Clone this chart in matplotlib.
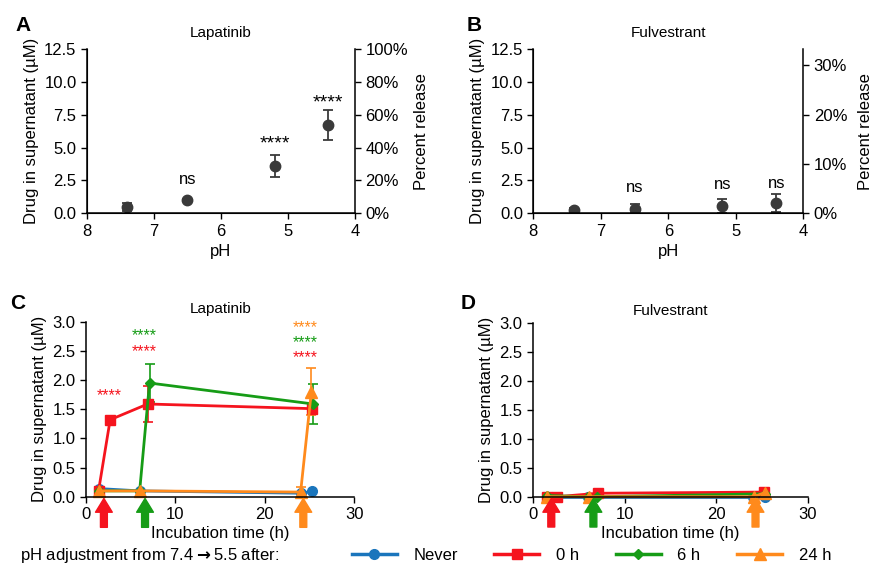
import numpy as np
import matplotlib
matplotlib.use('Agg')
import matplotlib.pyplot as plt
from matplotlib.lines import Line2D
from matplotlib.ticker import FuncFormatter

plt.rcParams['font.family'] = ['Liberation Sans', 'DejaVu Sans']
plt.rcParams['font.size'] = 12

# panel A/B data (pH series)
ph = [7.4, 6.5, 5.2, 4.4]
lap_ph = [0.45, 1.0, 3.6, 6.7]
lap_ph_err = [0.3, 0.1, 0.85, 1.15]
lap_ph_sig = ['', 'ns', '****', '****']
lap_sig_y = [0, 2.6, 5.6, 8.7]
ful_ph = [0.25, 0.35, 0.55, 0.8]
ful_ph_err = [0.15, 0.35, 0.5, 0.68]
ful_ph_sig = ['', 'ns', 'ns', 'ns']
ful_sig_y = [0, 2.0, 2.2, 2.3]

# panel C/D data (time series)
series = ['Never', '0 h', '6 h', '24 h']
colors = ['#1a75bc', '#f5141e', '#169c16', '#ff8a1c']
markers = ['o', 's', 'D', '^']
msizes = [7, 7.5, 5, 8]

lap_t = {
    'Never': [1.4, 6.0, 24.0, 25.3],
    '0 h': [1.4, 2.7, 6.9, 25.3],
    '6 h': [1.4, 6.0, 7.1, 25.4],
    '24 h': [1.4, 6.0, 24.0, 25.2],
}
lap_y = {
    'Never': [0.14, 0.10, 0.06, 0.09],
    '0 h': [0.10, 1.32, 1.59, 1.51],
    '6 h': [0.10, 0.10, 1.95, 1.59],
    '24 h': [0.10, 0.10, 0.08, 1.80],
}
lap_err = {
    'Never': [0.02, 0.01, 0.01, 0.01],
    '0 h': [0.01, 0.03, 0.31, 0.05],
    '6 h': [0.01, 0.01, 0.33, 0.35],
    '24 h': [0.01, 0.01, 0.09, 0.40],
}
ful_t = {
    'Never': [1.5, 6.0, 24.0, 25.3],
    '0 h': [1.5, 2.6, 7.1, 25.2],
    '6 h': [1.5, 6.0, 7.0, 25.3],
    '24 h': [1.5, 6.1, 24.1, 25.3],
}
ful_y = {
    'Never': [0.0, 0.0, 0.0, 0.0],
    '0 h': [0.0, 0.0, 0.06, 0.08],
    '6 h': [0.02, 0.0, 0.0, 0.05],
    '24 h': [0.0, 0.0, 0.0, 0.07],
}

arrow_t = [2.0, 6.6, 24.3]
arrow_c = colors[1:]

# significance marks for C: (x, y, color)
lap_stars = [(2.6, 1.8, colors[1]), (6.5, 2.83, colors[2]), (6.5, 2.55, colors[1]),
             (24.5, 2.96, colors[3]), (24.5, 2.71, colors[2]), (24.5, 2.44, colors[1])]

fig = plt.figure(figsize=(8.75, 5.68), dpi=100)

dark = '#3a3a3a'


def style(ax):
    ax.spines['top'].set_visible(False)
    ax.spines['right'].set_visible(False)
    ax.tick_params(direction='out', length=4, width=1)
    for s in ax.spines.values():
        s.set_linewidth(1.1)


def ph_panel(rect, y, err, sig, sig_y, title, pmax, pticks, rpad):
    ax = fig.add_axes(rect)
    style(ax)
    ax.errorbar(ph, y, yerr=err, fmt='o', color=dark, ms=7.5, capsize=3.5, elinewidth=1.3, capthick=1.3)
    for x, s, sy in zip(ph, sig, sig_y):
        if s == 'ns':
            ax.text(x, sy, s, ha='center', va='center', fontsize=12)
        elif s:
            ax.text(x, sy - 0.3, s, ha='center', va='center', fontsize=14)
    ax.set_xlim(8, 4)
    ax.set_ylim(0, 12.5)
    ax.set_yticks([0, 2.5, 5, 7.5, 10, 12.5])
    ax.yaxis.set_major_formatter(FuncFormatter(lambda v, p: '%.1f' % v))
    ax.set_xticks([8, 7, 6, 5, 4])
    ax.set_xlabel('pH')
    ax.set_ylabel('Drug in supernatant (µM)')
    ax.set_title(title, fontsize=11, pad=9)
    ax2 = ax.twinx()
    ax2.spines['top'].set_visible(False)
    ax2.spines['right'].set_linewidth(1.1)
    ax2.set_ylim(0, pmax)
    ax2.set_yticks(pticks)
    ax2.yaxis.set_major_formatter(FuncFormatter(lambda v, p: '%d%%' % v))
    ax2.tick_params(direction='out', length=4, width=1)
    ax2.set_ylabel('Percent release', labelpad=rpad)
    return ax


def time_panel(rect, tdict, ydict, edict, title, stars):
    ax = fig.add_axes(rect)
    style(ax)
    for name, c, m, ms in zip(series, colors, markers, msizes):
        if edict is not None:
            ax.errorbar(tdict[name], ydict[name], yerr=edict[name], color=c, marker=m, ms=ms,
                        lw=2, capsize=3.5, elinewidth=1.2, capthick=1.2, clip_on=False)
        else:
            ax.plot(tdict[name], ydict[name], color=c, marker=m, ms=ms, lw=2, clip_on=False)
    for x, y, c in stars:
        ax.text(x, y - 0.06, '****', color=c, ha='center', va='center', fontsize=11.5)
    for x, c in zip(arrow_t, arrow_c):
        ax.annotate('', xy=(x, -0.01), xytext=(x, -0.175),
                    xycoords=('data', 'axes fraction'),
                    arrowprops=dict(arrowstyle='simple,head_width=1.1,head_length=0.9,tail_width=0.45',
                                    color=c, mutation_scale=11, shrinkA=0, shrinkB=0),
                    annotation_clip=False)
    ax.set_xlim(0, 30)
    ax.set_ylim(0, 3.0)
    ax.set_xticks([0, 10, 20, 30])
    ax.set_yticks(np.arange(0, 3.01, 0.5))
    ax.yaxis.set_major_formatter(FuncFormatter(lambda v, p: '%.1f' % v))
    ax.set_xlabel('Incubation time (h)', labelpad=3)
    ax.set_ylabel('Drug in supernatant (µM)')
    ax.set_title(title, fontsize=11, pad=6)
    return ax


ph_panel([0.0994, 0.6245, 0.3063, 0.2892], lap_ph, lap_ph_err, lap_ph_sig, lap_sig_y,
         'Lapatinib', 100, [0, 20, 40, 60, 80, 100], 4)
ph_panel([0.6095, 0.6245, 0.3086, 0.2892], ful_ph, ful_ph_err, ful_ph_sig, ful_sig_y,
         'Fulvestrant', 100 / 3, [0, 10, 20, 30], 8)
time_panel([0.0983, 0.1255, 0.3066, 0.308], lap_t, lap_y, lap_err, 'Lapatinib', lap_stars)
time_panel([0.6091, 0.1255, 0.3140, 0.3050], ful_t, ful_y, None, 'Fulvestrant', [])

for lbl, x, y in [('A', 0.018, 0.955), ('B', 0.533, 0.955), ('C', 0.012, 0.465), ('D', 0.526, 0.465)]:
    fig.text(x, y, lbl, fontsize=15, fontweight='bold', va='center')

fig.text(0.023, 0.022, r'pH adjustment from 7.4$\mathbf{\rightarrow}$5.5 after:', fontsize=12, va='center')
handles = [Line2D([], [], color=c, marker=m, ms=ms, lw=2.5) for c, m, ms in zip(colors, markers, msizes)]
fig.legend(handles, series, loc='center', bbox_to_anchor=(0.676, 0.022), ncol=4, frameon=False,
           handlelength=2.7, columnspacing=2.2, handletextpad=1.0, fontsize=12)

fig.savefig('out.png', dpi=100)
